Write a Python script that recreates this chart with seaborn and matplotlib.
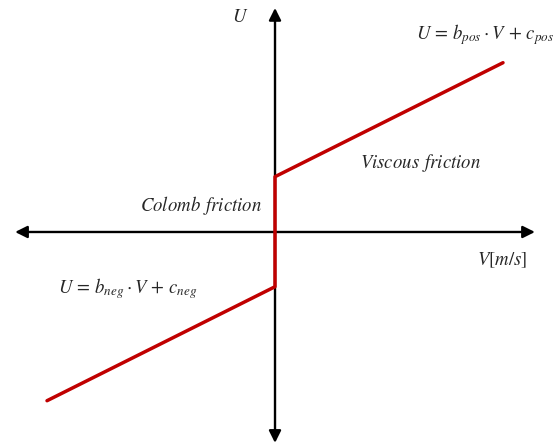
import matplotlib
matplotlib.use("Agg")
import matplotlib.pyplot as plt
import seaborn as sns
import pandas as pd

sns.set_theme(style="white")
plt.rcParams["mathtext.fontset"] = "stix"
plt.rcParams["font.family"] = ["STIXGeneral", "DejaVu Serif"]

# Friction model: U = b*V + c on each side, with a jump at V = 0
b_neg, c_neg = 0.5, -0.96
b_pos, c_pos = 0.5, 0.97
V_points = [-4.0, 0.0, 0.0, 4.0]
U_points = [b_neg * -4.0 + c_neg, c_neg, c_pos, b_pos * 4.0 + c_pos]

# axis extents
x_axis = [-4.56, 4.56]
y_axis = [-3.70, 3.93]

df = pd.DataFrame({"V": V_points, "U": U_points})

fig = plt.figure(figsize=(5.58, 4.45), dpi=100)
ax = fig.add_axes([0, 0, 1, 1])
ax.set_xlim(-4.825, 4.965)
ax.set_ylim(-3.737, 4.07)
ax.axis("off")

arrow = dict(arrowstyle="<|-|>", color="black", lw=1.7, mutation_scale=18, shrinkA=0, shrinkB=0)
ax.annotate("", xy=(x_axis[0], 0), xytext=(x_axis[1], 0), arrowprops=arrow)
ax.annotate("", xy=(0, y_axis[0]), xytext=(0, y_axis[1]), arrowprops=arrow)

sns.lineplot(data=df, x="V", y="U", sort=False, estimator=None, color="#C00000",
             linewidth=2.5, ax=ax, zorder=3)
ax.set_xlabel("")
ax.set_ylabel("")

fs = 13.5
ax.text(-0.62, 3.76, r"$U$", fontsize=fs, ha="center", va="center")
ax.text(3.98, -0.49, r"$V[m/s]$", fontsize=fs, ha="center", va="center")
ax.text(3.68, 3.47, r"$U\,=\,b_{pos}\cdot V\,+\,c_{pos}$", fontsize=fs, ha="center", va="center")
ax.text(2.55, 1.21, r"$Viscous\;\,friction$", fontsize=fs, ha="center", va="center")
ax.text(-1.3, 0.47, r"$Colomb\;\,friction$", fontsize=fs, ha="center", va="center")
ax.text(-2.58, -1.0, r"$U\,=\,b_{neg}\cdot V\,+\,c_{neg}$", fontsize=fs, ha="center", va="center")

fig.savefig("out.png", dpi=100)
